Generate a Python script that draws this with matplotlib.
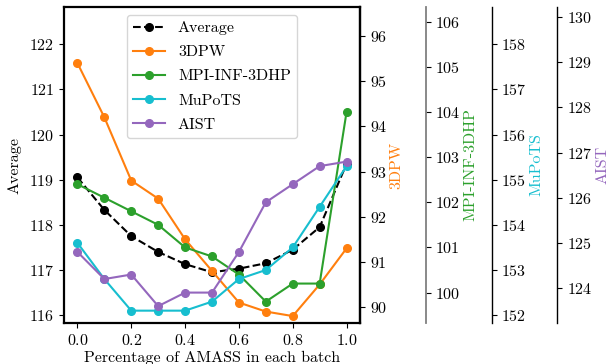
import matplotlib
matplotlib.use("Agg")
import matplotlib.pyplot as plt

plt.rcParams['font.family'] = 'serif'
plt.rcParams['font.serif'] = ['cmr10']
plt.rcParams['axes.formatter.use_mathtext'] = True
plt.rcParams['font.size'] = 11.5

x = [0.0, 0.1, 0.2, 0.3, 0.4, 0.5, 0.6, 0.7, 0.8, 0.9, 1.0]
average = [119.05, 118.33, 117.75, 117.40, 117.13, 116.95, 117.03, 117.15, 117.45, 117.95, 119.35]
dpw = [95.4, 94.2, 92.8, 92.4, 91.5, 90.8, 90.1, 89.9, 89.8, 90.5, 91.3]
mpi = [102.4, 102.1, 101.8, 101.5, 101.0, 100.8, 100.4, 99.8, 100.2, 100.2, 104.0]
mupots = [153.6, 152.8, 152.1, 152.1, 152.1, 152.3, 152.8, 153.0, 153.5, 154.4, 155.3]
aist = [124.8, 124.2, 124.3, 123.6, 123.9, 123.9, 124.8, 125.9, 126.3, 126.7, 126.8]

fig = plt.figure(figsize=(6.13, 3.64), dpi=100)
ax = fig.add_axes([0.1044, 0.1118, 0.4829, 0.8698])
for s in ax.spines.values():
    s.set_linewidth(1.6)

lines = []
l0, = ax.plot(x, average, '--', color='black', marker='o', lw=1.5, ms=5.5, label='Average')
lines.append(l0)
ax.set_ylim(115.82, 122.83)
ax.set_ylabel('Average', labelpad=5)
ax.set_xlabel('Percentage of AMASS in each batch', labelpad=2)
ax.set_xticks([0.0, 0.2, 0.4, 0.6, 0.8, 1.0])
ax.set_xlim(-0.05, 1.05)

specs = [
    (dpw, '3DPW', 'tab:orange', (89.64, 96.65), None, 'black'),
    (mpi, 'MPI-INF-3DHP', 'tab:green', (99.32, 106.33), 1.222, '#808080'),
    (mupots, 'MuPoTS', '#17becf', (151.82, 158.83), 1.445, 'black'),
    (aist, 'AIST', 'tab:purple', (123.22, 130.23), 1.667, 'black'),
]
for data, name, col, lim, pos, scol in specs:
    tw = ax.twinx()
    if pos is not None:
        tw.set_frame_on(True)
        tw.patch.set_visible(False)
        for k in ('left', 'top', 'bottom'):
            tw.spines[k].set_visible(False)
        tw.spines['right'].set_position(('axes', pos))
        tw.spines['right'].set_color(scol)
        tw.spines['right'].set_linewidth(1.3 if scol != 'black' else 1.0)
    else:
        for k in ('left', 'top', 'bottom'):
            tw.spines[k].set_visible(False)
        tw.spines['right'].set_linewidth(1.6)
    l, = tw.plot(x, data, '-', color=col, marker='o', lw=1.5, ms=5.5, label=name)
    lines.append(l)
    tw.set_ylim(*lim)
    tw.set_ylabel(name, color=col, labelpad=2)

leg = tw.legend(lines, [l.get_label() for l in lines], loc='upper center',
                bbox_to_anchor=(0.5, 1.0), bbox_transform=ax.transAxes,
                handlelength=2.0, labelspacing=0.62)

fig.savefig('out.png', dpi=100)
